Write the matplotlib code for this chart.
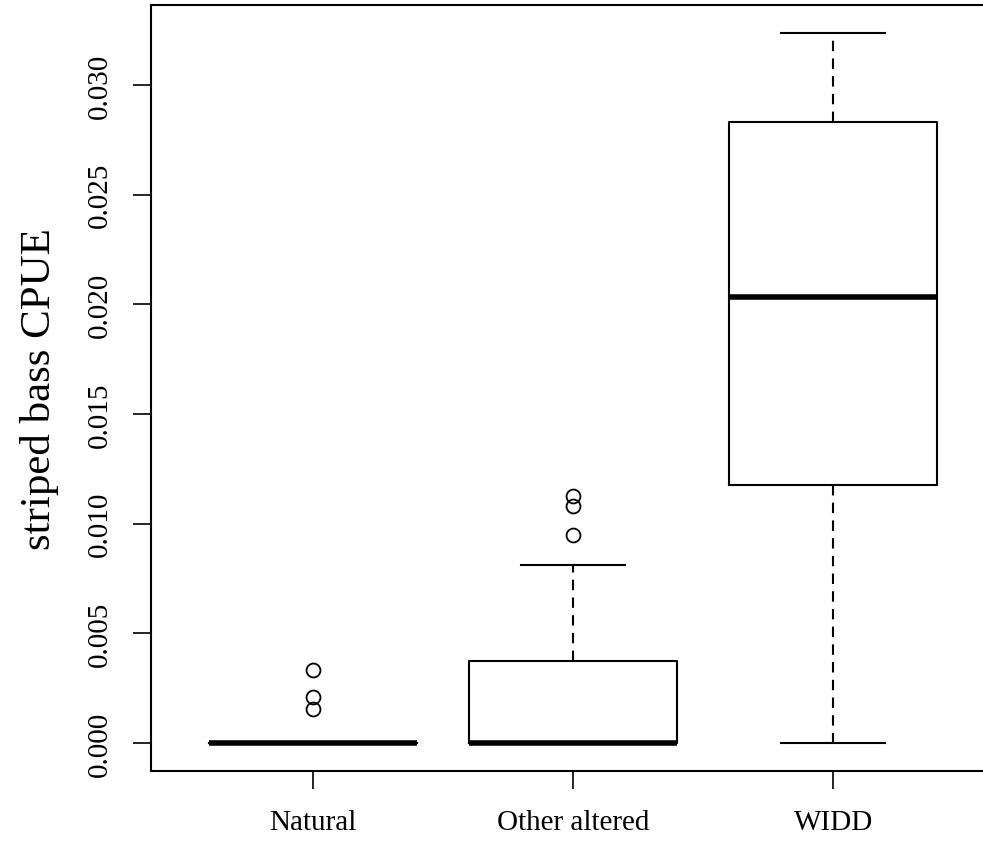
import matplotlib
matplotlib.use("Agg")
import matplotlib.pyplot as plt

# values
groups = ["Natural", "Other altered", "WIDD"]
q1 = [0.0, 0.0, 0.01178]
med = [0.0, 0.0, 0.02032]
q3 = [0.0, 0.00375, 0.02830]
whislo = [0.0, 0.0, 0.0]
whishi = [0.0, 0.00812, 0.03236]
fliers = [[0.00334, 0.00208, 0.00155],
          [0.01125, 0.01080, 0.00948],
          []]
yticks = [0.0, 0.005, 0.010, 0.015, 0.020, 0.025, 0.030]

plt.rcParams['font.family'] = ['Liberation Serif', 'DejaVu Serif']

stats = []
for i in range(len(groups)):
    stats.append(dict(label=groups[i], q1=q1[i], med=med[i], q3=q3[i],
                      whislo=whislo[i], whishi=whishi[i], fliers=fliers[i]))

fig = plt.figure(figsize=(9.83, 8.45), dpi=100)
ax = fig.add_axes([0.1539, 0.0859, 0.858, 0.9071])

ax.bxp(stats, positions=[1, 2, 3], widths=0.8, showfliers=True,
       boxprops=dict(color='black', linewidth=1.5),
       medianprops=dict(color='black', linewidth=4.0, solid_capstyle='butt'),
       whiskerprops=dict(color='black', linewidth=1.5, linestyle=(0, (5, 3.5))),
       capprops=dict(color='black', linewidth=1.5),
       capwidths=0.4,
       flierprops=dict(marker='o', markerfacecolor='none', markeredgecolor='black',
                       markersize=10, markeredgewidth=1.3))

ax.set_xlim(0.38, 3.62)
ax.set_ylim(-0.001294, 0.033654)
ax.set_yticks(yticks)
ax.set_yticklabels(["%.3f" % v for v in yticks], rotation=90, va='center')
ax.set_xticks([1, 2, 3])
ax.set_xticklabels(groups)
ax.tick_params(axis='both', length=13.3, width=1.2, labelsize=21, pad=14)
for s in ax.spines.values():
    s.set_linewidth(1.5)

# y axis title, larger than the tick text in the reference
fig.text(40 / 983, 1 - 389 / 845, "striped bass CPUE", rotation=90,
         ha='center', va='center', fontsize=31)

fig.savefig("out.png", dpi=100)
